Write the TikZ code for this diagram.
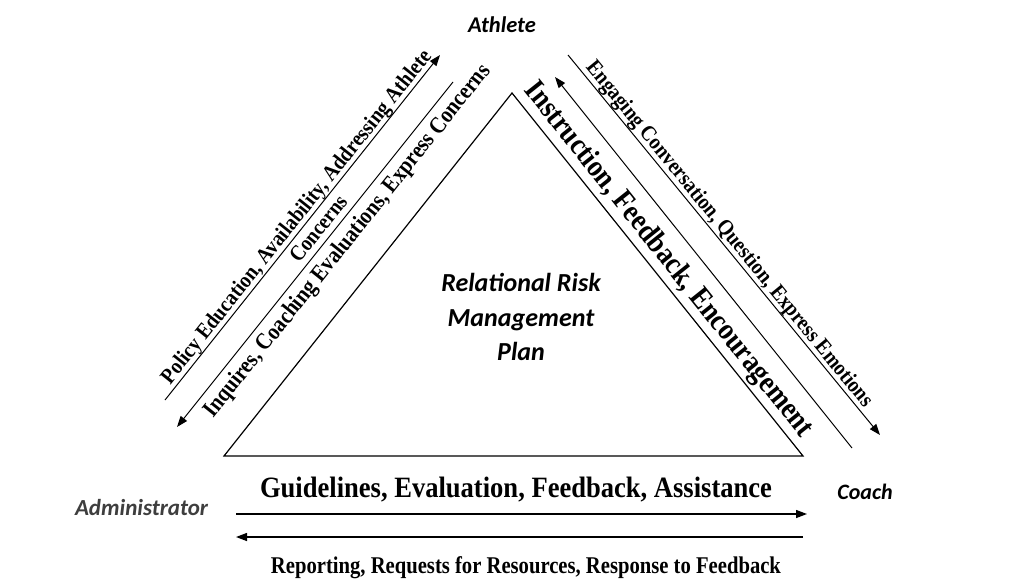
\documentclass[tikz,border=0pt]{standalone}
\usepackage{fontspec}
\setmainfont{Liberation Serif}
\newfontfamily\calib{Carlito}
\usetikzlibrary{arrows.meta,calc}
\definecolor{admingray}{RGB}{62,62,62}
\newcommand{\sqz}[2]{\resizebox{#1}{\height}{\bfseries #2}}
\begin{document}
\begin{tikzpicture}[x=1pt,y=-1pt,
  lbl/.style={font=\calib\bfseries\itshape, inner sep=0pt, anchor=base},
  conn/.style={line width=1pt},
  hconn/.style={line width=1.3pt},
  tip/.style={-{Triangle[length=11pt,width=8pt]}},
  srf/.style={inner sep=0pt, anchor=base}]
\fill[white] (0,0) rectangle (1024,586);
\useasboundingbox (0,0) rectangle (1024,586);

% triangle
\coordinate (A) at (512,93);
\coordinate (B) at (224,456);
\coordinate (C) at (803,456);
\draw[line width=1.2pt] (A) -- (B) -- (C) -- cycle;

% left connectors
\coordinate (L1a) at (165,400); \coordinate (L1b) at (440,55);
\draw[conn,tip] (L1a) -- (L1b);
\coordinate (L2a) at (453,82); \coordinate (L2b) at (177,427);
\draw[conn,tip] (L2a) -- (L2b);
% right connectors
\coordinate (R1a) at (852,448); \coordinate (R1b) at (555,77);
\draw[conn,tip] (R1a) -- (R1b);
\coordinate (R2a) at (568,55); \coordinate (R2b) at (880,435);
\draw[conn,tip] (R2a) -- (R2b);
% horizontal connectors
\coordinate (H1a) at (236,514); \coordinate (H1b) at (807,514);
\draw[hconn,tip] (H1a) -- (H1b);
\coordinate (H2a) at (803,537); \coordinate (H2b) at (236,537);
\draw[hconn,tip] (H2a) -- (H2b);

% role labels
\node[lbl, font=\calib\bfseries\itshape\fontsize{22.5}{26}\selectfont] (ath) at (502,32.5) {Athlete};
\node[lbl, text=admingray, font=\calib\bfseries\itshape\fontsize{23}{27}\selectfont] (adm) at (141.5,515) {Administrator};
\node[lbl, font=\calib\bfseries\itshape\fontsize{22}{26}\selectfont] (coa) at (865,499) {Coach};
\node[inner sep=0pt, align=center, font=\calib\bfseries\itshape\fontsize{26}{34.5}\selectfont] (plan) at (521,317) {Relational Risk\\Management\\Plan};

% slanted texts
\node[srf, rotate=51.4, font=\fontsize{22}{25}\selectfont] (pol) at ($(L1a)!0.51!(L1b)!5pt!90:(L1b)$) {\sqz{420pt}{Policy Education, Availability, Addressing Athlete}};
\node[srf, rotate=51.4, font=\fontsize{22}{25}\selectfont] (con) at ($(L1a)!0.52!(L1b)!20pt!-90:(L1b)$) {\sqz{79pt}{Concerns}};
\node[srf, rotate=51.4, font=\fontsize{23.5}{26}\selectfont] (inq) at ($(L2b)!0.57!(L2a)!23pt!-90:(L2a)$) {\sqz{445pt}{Inquires, Coaching Evaluations, Express Concerns}};
\node[srf, rotate=-51.4, font=\fontsize{30.5}{33}\selectfont] (ins) at ($(A)!0.49!(C)!10pt!90:(C)$) {\sqz{445pt}{Instruction, Feedback, Encouragement}};
\node[srf, rotate=-50.7, font=\fontsize{22}{25}\selectfont] (eng) at ($(R2a)!0.49!(R2b)!5pt!90:(R2b)$) {\sqz{440pt}{Engaging Conversation, Question, Express Emotions}};

% horizontal texts
\node[srf, font=\fontsize{29.5}{32}\selectfont] (gui) at (516,497) {\sqz{512pt}{Guidelines, Evaluation, Feedback, Assistance}};
\node[srf, font=\fontsize{24}{26}\selectfont] (rep) at (526,573) {\sqz{510pt}{Reporting, Requests for Resources, Response to Feedback}};
\end{tikzpicture}
\end{document}
